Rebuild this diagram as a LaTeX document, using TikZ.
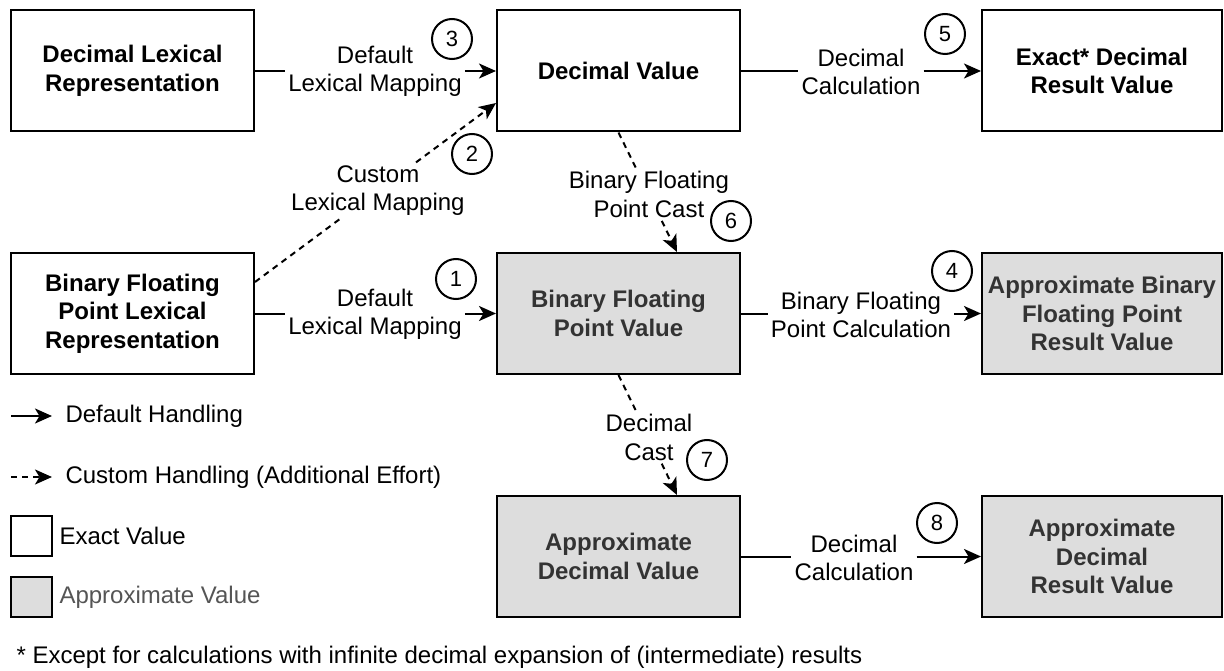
\documentclass[tikz,border=0pt]{standalone}
\usepackage{fontspec}
\setmainfont{Liberation Sans}
\usetikzlibrary{arrows.meta}
\definecolor{fillgray}{HTML}{DDDDDD}
\definecolor{txtgray}{HTML}{333333}
\definecolor{leggray}{HTML}{555555}
\begin{document}
\begin{tikzpicture}[x=1pt,y=-1pt,
  every node/.style={font=\fontsize{24}{28.5}\selectfont},
  valbox/.style={draw, line width=2pt, minimum width=243pt, minimum height=121pt, align=center, font=\fontsize{24}{28.5}\selectfont\bfseries, inner sep=0pt},
  approx/.style={valbox, fill=fillgray, text=txtgray},
  lbl/.style={align=center, inner sep=3pt},
  num/.style={draw, circle, line width=2pt, minimum size=40pt, inner sep=0pt, font=\fontsize{22}{22}\selectfont},
  conn/.style={line width=2pt},
  arr/.style={conn, -{Stealth[length=17pt,width=15pt,inset=4.5pt]}},
  dsh/.style={conn, dash pattern=on 6pt off 5pt}
]
\useasboundingbox (0,0) rectangle (1224,671);

% value boxes
\node[valbox] (dlr) at (132.5,71) {Decimal Lexical\\Representation};
\node[valbox] (dv) at (618.5,71) {Decimal Value};
\node[valbox, minimum width=240pt] (edr) at (1102,71) {Exact* Decimal\\Result Value};
\node[valbox] (bfplr) at (132.5,313.5) {Binary Floating\\Point Lexical\\Representation};
\node[approx] (bfpv) at (618.5,313.5) {Binary Floating\\Point Value};
\node[approx, minimum width=240pt] (abfpr) at (1102,313.5) {Approximate Binary\\Floating Point\\Result Value};
\node[approx] (adv) at (618.5,556.5) {Approximate\\Decimal Value};
\node[approx, minimum width=240pt] (adr) at (1102,556.5) {Approximate\\Decimal\\Result Value};

% horizontal connectors
\node[lbl] (l3) at (375,71.5) {Default\\Lexical Mapping};
\draw[conn] (dlr.east) -- (dlr.east -| l3.west);
\draw[arr] (dv.west -| l3.east) -- (dv.west);

\node[lbl] (l1) at (375,314.5) {Default\\Lexical Mapping};
\draw[conn] (bfplr.east) -- (bfplr.east -| l1.west);
\draw[arr] (bfpv.west -| l1.east) -- (bfpv.west);

\node[lbl] (l5) at (861,72) {Decimal\\Calculation};
\draw[conn] (dv.east) -- (dv.east -| l5.west);
\draw[arr] (edr.west -| l5.east) -- (edr.west);

\node[lbl] (l4) at (861,315) {Binary Floating\\Point Calculation};
\draw[conn] (bfpv.east) -- (bfpv.east -| l4.west);
\draw[arr] (abfpr.west -| l4.east) -- (abfpr.west);

\node[lbl] (l8) at (854,558) {Decimal\\Calculation};
\draw[conn] (adv.east) -- (adv.east -| l8.west);
\draw[arr] (adr.west -| l8.east) -- (adr.west);

% dashed connectors
\coordinate (s2) at ([yshift=31.5pt]bfplr.east);
\coordinate (e2) at ([yshift=-32pt]dv.west);
\path (s2) -- (e2) node[lbl, pos=0.51] (l2) {Custom\\Lexical Mapping};
\draw[dsh] (s2) -- (l2);
\draw[dsh, arr] (l2) -- (e2);

\coordinate (e6) at ([xshift=58.5pt]bfpv.north);
\path (dv.south) -- (e6) node[lbl, pos=0.52] (l6) {Binary Floating\\Point Cast};
\draw[dsh] (dv.south) -- (l6);
\draw[dsh, arr] (l6) -- (e6);

\coordinate (e7) at ([xshift=58.5pt]adv.north);
\path (bfpv.south) -- (e7) node[lbl, pos=0.52] (l7) {Decimal\\Cast};
\draw[dsh] (bfpv.south) -- (l7);
\draw[dsh, arr] (l7) -- (e7);

% step numbers
\node[num] (n1) at (456,279) {1};
\node[num] (n2) at (472,154) {2};
\node[num] (n3) at (452,39) {3};
\node[num] (n4) at (952,271) {4};
\node[num] (n5) at (945,34) {5};
\node[num] (n6) at (731,221) {6};
\node[num] (n7) at (707,460) {7};
\node[num] (n8) at (937,523) {8};

% legend
\coordinate (la1) at (11,416);
\coordinate (la2) at (52,416);
\draw[arr] (la1) -- (la2);
\node[anchor=west] (lt1) at (62,416) {Default Handling};
\coordinate (lb1) at (11,477);
\coordinate (lb2) at (52,477);
\draw[dsh, arr] (lb1) -- (lb2);
\node[anchor=west] (lt2) at (62,477) {Custom Handling (Additional Effort)};
\node[draw, line width=2pt, minimum width=41pt, minimum height=40pt, inner sep=0pt] (lx) at (31.5,536) {};
\node[anchor=west] (lt3) at (56,536) {Exact Value};
\node[draw, fill=fillgray, line width=2pt, minimum width=41pt, minimum height=40pt, inner sep=0pt] (la) at (31.5,597) {};
\node[anchor=west, text=leggray] (lt4) at (56,597) {Approximate Value};

% footnote
\node[anchor=west] (fn) at (13,657) {* Except for calculations with infinite decimal expansion of (intermediate) results};
\end{tikzpicture}
\end{document}
